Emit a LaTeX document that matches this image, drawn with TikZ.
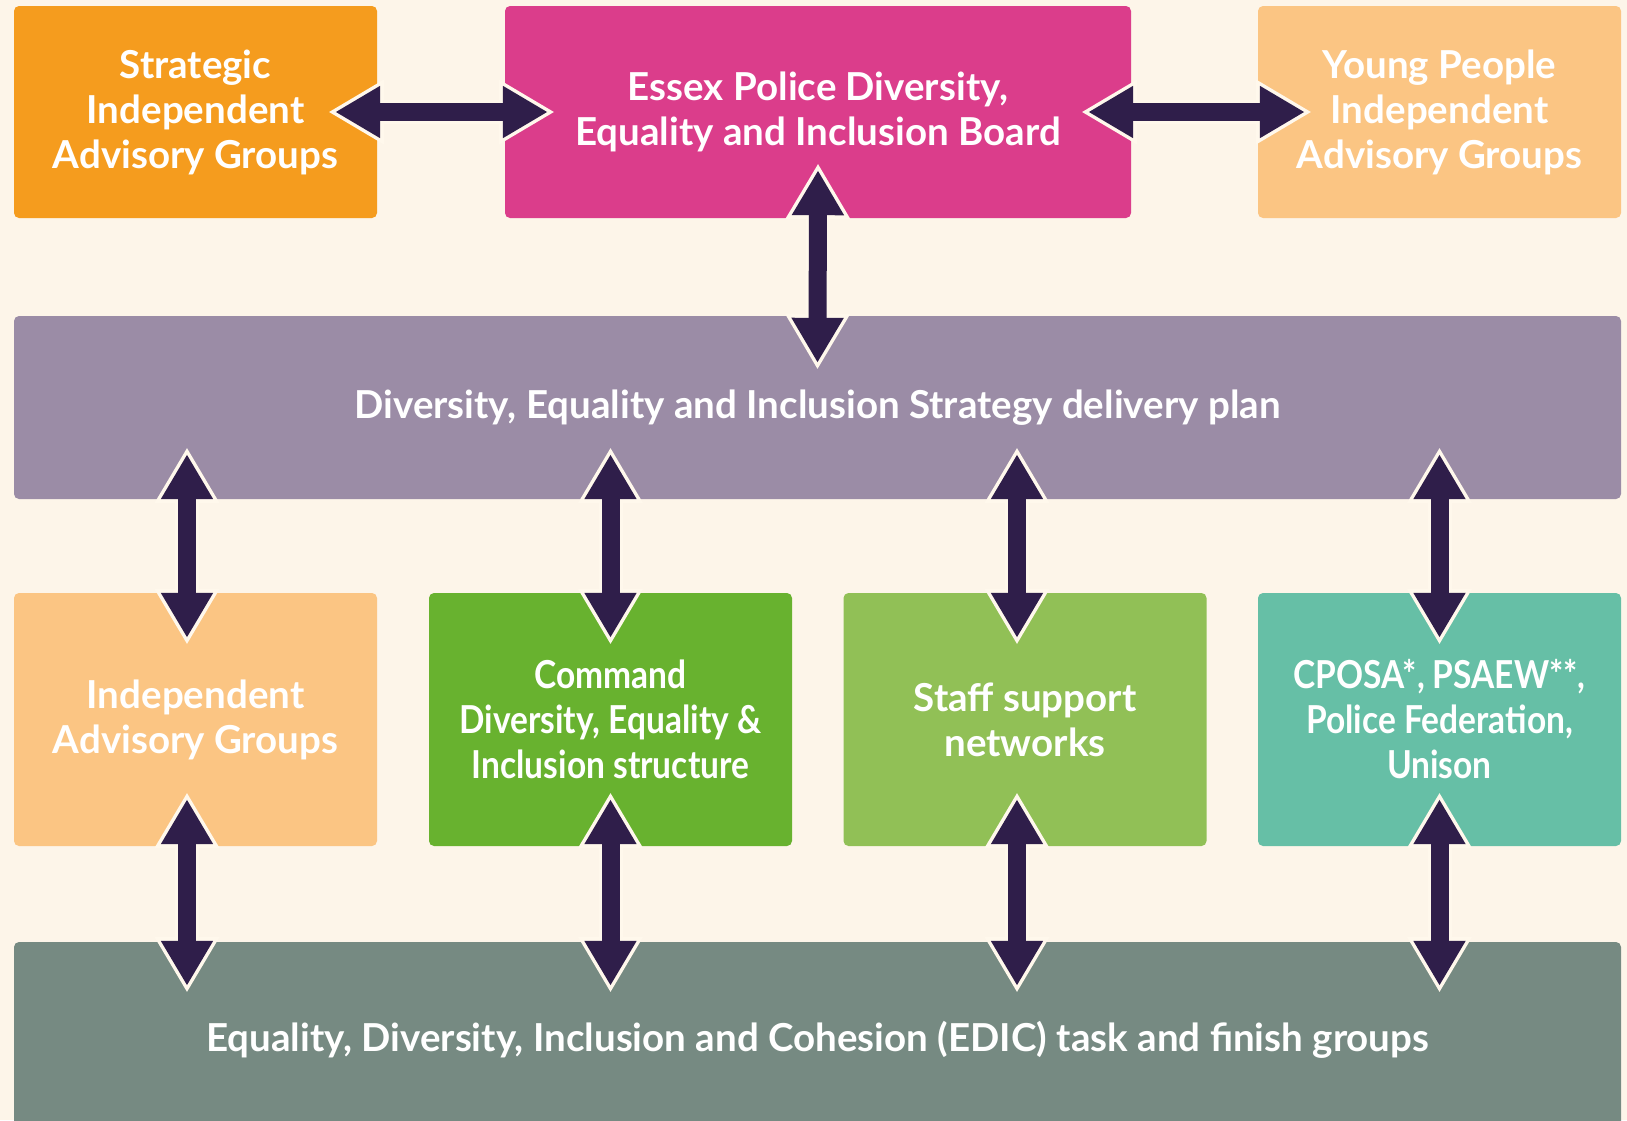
\documentclass[tikz,border=0pt]{standalone}
\usepackage{fontspec}
\setmainfont{Lato}
\usetikzlibrary{arrows.meta,calc}

\definecolor{bg}{HTML}{FDF5E9}
\definecolor{rim}{HTML}{FFF8EC}
\definecolor{ink}{HTML}{2F1E4A}
\definecolor{orange}{HTML}{F59C1E}
\definecolor{pink}{HTML}{DB3D8B}
\definecolor{peach}{HTML}{FBC583}
\definecolor{plum}{HTML}{9B8CA6}
\definecolor{green}{HTML}{68B22F}
\definecolor{lime}{HTML}{91C056}
\definecolor{teal}{HTML}{66BFA6}
\definecolor{sage}{HTML}{768A82}

\newcommand{\narrow}{\addfontfeatures{FakeStretch=0.87}}

\tikzset{
  box/.style={rectangle, rounded corners=5pt, inner sep=0pt, text=white, align=center,
    font=\bfseries\fontsize{38.5}{45}\selectfont},
  tall/.style={box, minimum width=363pt, minimum height=212pt},
  wide/.style={box, minimum width=1607pt},
  link/.style={line width=18pt, draw=ink,
    {Triangle[length=45pt,width=49pt]}-{Triangle[length=45pt,width=49pt]},
    preaction={draw=rim, line width=24pt, shorten <=-7pt, shorten >=-7pt,
      {Triangle[length=56pt,width=61pt]}-{Triangle[length=56pt,width=61pt]}}}
}

\begin{document}
\begin{tikzpicture}[x=1pt,y=-1pt]
\useasboundingbox (0,0) rectangle (1627,1120);
\fill[bg] (0,0) rectangle (1627,1120);

% top row
\node[tall,fill=orange] (sig) at (195.5,112) {Strategic\\Independent\\Advisory Groups};
\node[tall,fill=pink,minimum width=626pt] (board) at (818,112) {Essex Police Diversity,\\Equality and Inclusion Board};
\node[tall,fill=peach] (ypg) at (1439.5,112) {Young People\\Independent\\Advisory Groups};

\node[wide,fill=plum,minimum height=183pt] (plan) at (817.5,407.5) {Diversity, Equality and Inclusion Strategy delivery plan};

% middle row
\node[tall,fill=peach,minimum height=253pt] (iag) at (195.5,719.5) {Independent\\Advisory Groups};
\node[tall,fill=green,minimum height=253pt] (cmd) at (610.5,719.5) {\narrow Command\\\narrow Diversity, Equality \&\\\narrow Inclusion structure};
\node[tall,fill=lime,minimum height=253pt] (staff) at (1025,719.5) {Staff support\\networks};
\node[tall,fill=teal,minimum height=253pt] (rep) at (1439.5,719.5) {\narrow CPOSA*, PSAEW**,\\\narrow Police Federation,\\\narrow Unison};

\node[wide,fill=sage,minimum height=196pt] (edic) at (817.5,1040) {Equality, Diversity, Inclusion and Cohesion (EDIC) task and finish groups};

% arrows
\draw[link] ($(sig.east)+(-42,0)$) -- ($(board.west)+(43,0)$);
\draw[link] ($(board.east)+(-43,0)$) -- ($(ypg.west)+(47,0)$);
\draw[link] ($(board.south)+(0,-48)$) -- ($(plan.north)+(0,47)$);
\foreach \b/\dx in {iag/-8.5, cmd/0, staff/-8, rep/0} {
  \draw[link] ($(\b.north |- plan.south)+(\dx,-45)$) -- ($(\b.north)+(\dx,45)$);
  \draw[link] ($(\b.south)+(\dx,-47)$) -- ($(\b.south |- edic.north)+(\dx,44)$);
}
\end{tikzpicture}
\end{document}
